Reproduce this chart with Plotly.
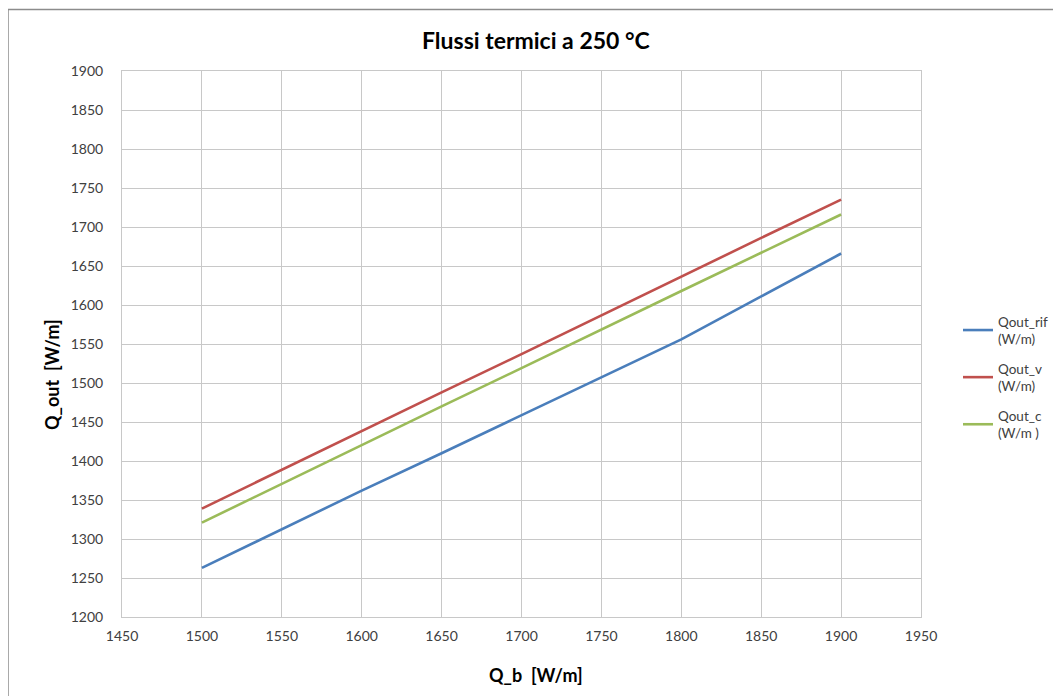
import plotly.graph_objects as go

q_b = [1500, 1550, 1600, 1650, 1700, 1750, 1800, 1850, 1900]
qout_rif = [1263, 1313, 1362, 1410, 1459, 1507, 1556, 1611, 1666]
qout_v = [1339, 1389, 1438, 1488, 1537, 1587, 1636, 1686, 1735]
qout_c = [1321, 1371, 1420, 1470, 1519, 1569, 1618, 1667, 1716]

series_names = ["Qout_rif<br>(W/m)", "Qout_v<br>(W/m)", "Qout_c<br>(W/m )"]
colors = ["#4A7EBB", "#C0504D", "#9BBB59"]

FONT = "Lato, 'Open Sans', sans-serif"

fig = go.Figure()
for i, (name, ys, col) in enumerate(zip(series_names, [qout_rif, qout_v, qout_c], colors)):
    fig.add_trace(go.Scatter(x=q_b, y=ys, mode="lines", name=name,
                             legendgroup=f"g{i}",
                             line=dict(color=col, width=2.6)))

# page is offset by the 8px body margin; work in page pixels below
OFF = 8
W, H = 1061 - OFF, 696 - OFF
L, R, T, B = 122 - OFF, 140, 71 - OFF, 79
pw, ph = W - L - R, H - T - B

def px_x(px):  # page pixel -> paper x
    return (px - OFF - L) / pw

def px_y(py):  # page pixel -> paper y
    return (H - B - (py - OFF)) / ph

fig.update_layout(
    width=W, height=H,
    margin=dict(l=L, r=R, t=T, b=B),
    paper_bgcolor="white", plot_bgcolor="white",
    font=dict(family=FONT, size=14, color="#404040"),
    showlegend=True,
    legend=dict(xref="container", yref="container",
                x=(958 - OFF) / W, y=1 - (306 - OFF) / H,
                xanchor="left", yanchor="top", traceorder="grouped",
                font=dict(family=FONT, size=13.5, color="#404040"),
                tracegroupgap=9, itemwidth=30, bgcolor="rgba(0,0,0,0)"),
    xaxis=dict(range=[1450, 1950], tick0=1450, dtick=50, showgrid=True,
               gridcolor="#C8C8C8", gridwidth=1, showline=True, linecolor="#C8C8C8",
               mirror=True, ticks="", zeroline=False, ticklabelstandoff=6,
               tickfont=dict(family=FONT, size=14, color="#404040")),
    yaxis=dict(range=[1200, 1900], tick0=1200, dtick=50, showgrid=True,
               gridcolor="#C8C8C8", gridwidth=1, showline=True, linecolor="#C8C8C8",
               mirror=True, ticks="", zeroline=False, ticklabelstandoff=15,
               tickfont=dict(family=FONT, size=14, color="#404040")),
)

# title and axis titles as annotations
fig.add_annotation(text="<b>Flussi termici a 250 °C</b>", xref="paper", yref="paper",
                   x=px_x(536), y=px_y(40), xanchor="center", yanchor="middle",
                   showarrow=False, font=dict(family=FONT, size=23, color="#000000"))
fig.add_annotation(text="<b>Q_b  [W/m]</b>", xref="paper", yref="paper",
                   x=px_x(536), y=px_y(675), xanchor="center", yanchor="middle",
                   showarrow=False, font=dict(family=FONT, size=18, color="#000000"))
fig.add_annotation(text="<b>Q_out  [W/m]</b>", xref="paper", yref="paper",
                   x=px_x(52), y=px_y(375), xanchor="center", yanchor="middle",
                   textangle=-90, showarrow=False,
                   font=dict(family=FONT, size=18, color="#000000"))

# outer chart frame (top and left edges visible)
fig.add_shape(type="line", xref="paper", yref="paper",
              x0=px_x(7.5), x1=px_x(1080), y0=px_y(9.5), y1=px_y(9.5),
              line=dict(color="#8C8C8C", width=1.5))
fig.add_shape(type="line", xref="paper", yref="paper",
              x0=px_x(8), x1=px_x(8), y0=px_y(9.5), y1=px_y(720),
              line=dict(color="#8C8C8C", width=1.5))

fig.write_html("out.html")
